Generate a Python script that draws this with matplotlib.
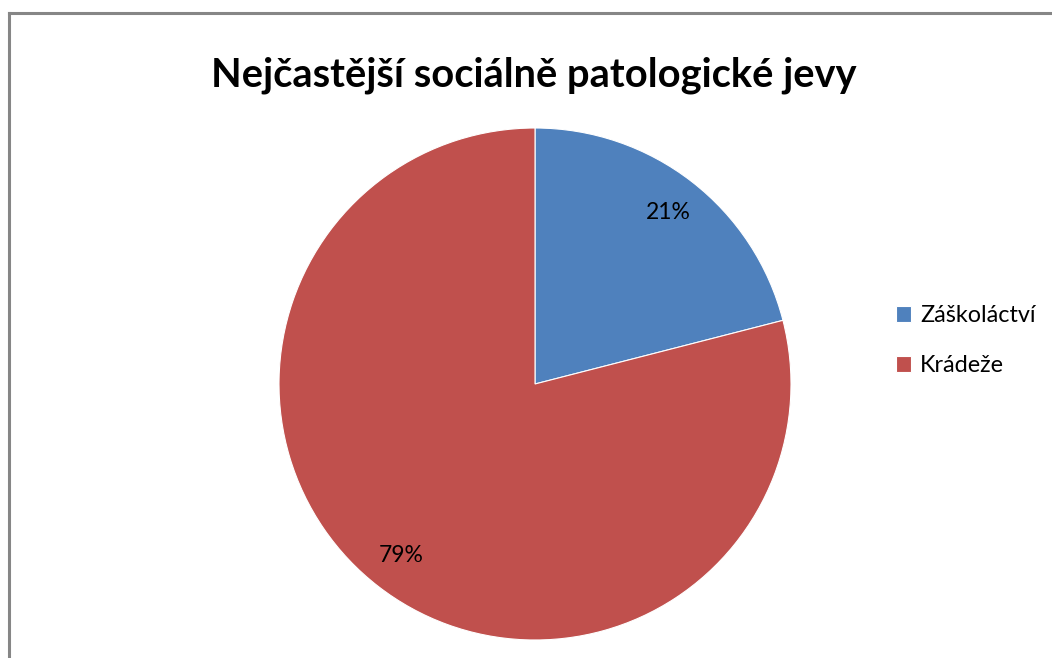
import matplotlib
matplotlib.use("Agg")
import matplotlib.pyplot as plt
from matplotlib.lines import Line2D

title = "Nejčastější sociálně patologické jevy"
categories = ["Záškoláctví", "Krádeže"]
values = [21, 79]
colors = ["#4F81BD", "#C0504D"]

plt.rcParams['font.family'] = ['Lato', 'DejaVu Sans']

W, H = 1052, 658
fig = plt.figure(figsize=(W / 100, H / 100), dpi=100)
fig.patch.set_facecolor("white")

# chart border (left and top visible)
fig.add_artist(Line2D([8.5 / W, 8.5 / W], [0, 1 - 12.5 / H], transform=fig.transFigure,
                      color="#868686", lw=2.2))
fig.add_artist(Line2D([8.5 / W, 1.0], [1 - 12.5 / H, 1 - 12.5 / H], transform=fig.transFigure,
                      color="#868686", lw=2.2))

cx, cy, r = 535, 384, 256
ax = fig.add_axes([(cx - r) / W, (H - cy - r) / H, 2 * r / W, 2 * r / H])
wedges, texts, autotexts = ax.pie(values, colors=colors, startangle=90, counterclock=False,
                                  autopct="%d%%", pctdistance=0.85,
                                  wedgeprops=dict(edgecolor="white", linewidth=0.8),
                                  textprops=dict(fontsize=16.5, color="black"))
ax.set_xlim(-1, 1)
ax.set_ylim(-1, 1)
ax.set_aspect("equal")
ax.axis("off")

fig.text(534 / W, 1 - 75 / H, title, ha="center", va="center", fontsize=28.7, fontweight="bold")

fig.legend(wedges, categories, loc="upper left", bbox_to_anchor=(896 / W, 1 - 305 / H),
           frameon=False, fontsize=16.8, handlelength=0.65, handleheight=0.65,
           handletextpad=0.38, labelspacing=1.25, borderpad=0, borderaxespad=0)

fig.savefig("out.png", dpi=100, facecolor="white")
